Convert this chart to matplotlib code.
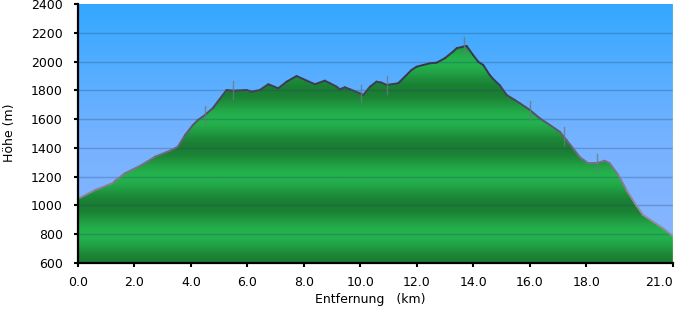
import numpy as np
import matplotlib
matplotlib.use("Agg")
import matplotlib.pyplot as plt
from matplotlib.collections import LineCollection
from matplotlib.colors import LinearSegmentedColormap

# ---- data ----
distance_km = [0.0, 0.60, 1.24, 1.31, 1.66, 2.25, 2.73, 3.32, 3.54, 3.79, 4.07, 4.25,
               4.50, 4.78, 5.26, 5.49, 5.97, 6.15, 6.44, 6.74, 7.09, 7.39, 7.74, 8.10,
               8.39, 8.74, 8.92, 9.16, 9.27, 9.45, 9.63, 9.98, 10.10, 10.34, 10.57, 10.75,
               10.93, 11.34, 11.81, 11.99, 12.22, 12.46, 12.70, 12.99, 13.28, 13.41, 13.64,
               13.76, 13.99, 14.17, 14.35, 14.58, 14.70, 14.94, 15.18, 15.47, 15.65, 16.00,
               16.35, 16.71, 17.06, 17.30, 17.53, 17.77, 18.07, 18.36, 18.65, 18.83, 19.13,
               19.42, 19.72, 20.01, 20.37, 20.72, 21.02, 21.07]
elevation_m = [1045, 1105, 1155, 1170, 1222, 1280, 1338, 1385, 1408, 1489, 1559, 1594,
               1629, 1678, 1803, 1798, 1803, 1791, 1803, 1843, 1815, 1861, 1900, 1868,
               1843, 1868, 1850, 1826, 1808, 1822, 1808, 1780, 1768, 1826, 1861, 1854,
               1838, 1850, 1942, 1965, 1977, 1989, 1993, 2024, 2070, 2094, 2105,
               2110, 2047, 2000, 1977, 1907, 1880, 1835, 1768, 1733, 1710, 1664,
               1606, 1559, 1512, 1454, 1397, 1335, 1292, 1292, 1310, 1292, 1211,
               1106, 1013, 932, 885, 839, 792, 785]
waypoints_km = [4.50, 5.49, 10.02, 10.94, 13.66, 16.00, 17.20, 18.37]
x_ticks = [0.0, 2.0, 4.0, 6.0, 8.0, 10.0, 12.0, 14.0, 16.0, 18.0, 21.07]
x_tick_labels = ["0.0", "2.0", "4.0", "6.0", "8.0", "10.0", "12.0", "14.0", "16.0", "18.0", "21.0"]
y_ticks = [600, 800, 1000, 1200, 1400, 1600, 1800, 2000, 2200, 2400]

W, H = 677, 311
fig = plt.figure(figsize=(W / 100, H / 100), dpi=100)
ax = fig.add_axes([78 / W, 1 - 262.6 / H, (673 - 78) / W, (262.6 - 4.3) / H])

xmin, xmax = 0.0, 21.07
ymin, ymax = 600, 2400
ax.set_xlim(xmin, xmax)
ax.set_ylim(ymin, ymax)

# sky gradient
sky = LinearSegmentedColormap.from_list("sky", ["#8db6ff", "#74b2ff", "#33a8ff"])
grad = np.linspace(0, 1, 256).reshape(-1, 1)
ax.imshow(grad, cmap=sky, origin="lower", aspect="auto",
          extent=[xmin, xmax, ymin, ymax], zorder=0)

# green fill with banded gradient
x = np.array(distance_km)
y = np.array(elevation_m)
poly = ax.fill_between(x, ymin, y, color="none", lw=0, zorder=1)
yy = np.linspace(ymin, ymax, 600)
phase = np.cos((yy - 1000) / 400 * 2 * np.pi)  # 1 at 1000/1400/1800, -1 at 800/1200/1600
band = (1 - phase) / 2
green = LinearSegmentedColormap.from_list("grn", ["#1a7d33", "#1f9840", "#24b24e"])
im = ax.imshow(band.reshape(-1, 1), cmap=green, origin="lower", aspect="auto",
               extent=[xmin, xmax, ymin, ymax], zorder=1, vmin=0, vmax=1)
path = poly.get_paths()[0]
im.set_clip_path(path, transform=ax.transData)

# grid lines
for yt in y_ticks[1:-1]:
    ax.axhline(yt, color="#1d3f66", alpha=0.27, lw=1.0, zorder=2)

# profile line, darker at higher elevation
pts = np.column_stack([x, y]).reshape(-1, 1, 2)
segs = np.concatenate([pts[:-1], pts[1:]], axis=1)
mid = (y[:-1] + y[1:]) / 2
t = np.clip((mid - 1000) / 900, 0, 1)
cols = [(0.58 - 0.36 * v, 0.55 - 0.33 * v, 0.62 - 0.32 * v, 1.0) for v in t]
lc = LineCollection(segs, colors=cols, linewidths=1.4, zorder=3, capstyle="round")
ax.add_collection(lc)

# waypoint markers
for wx in waypoints_km:
    wy = np.interp(wx, x, y)
    ax.plot([wx, wx], [wy - 60, wy + 65], color="#6b7a80", lw=1.0, alpha=0.8, zorder=3)

# right edge thin line
ax.axvline(xmax, color="#a8e0a0", lw=1.0, zorder=4)

# axes styling
for s in ["top", "right"]:
    ax.spines[s].set_visible(False)
for s in ["left", "bottom"]:
    ax.spines[s].set_linewidth(1.6)
    ax.spines[s].set_color("black")
    ax.spines[s].set_zorder(5)

ax.set_xticks(x_ticks)
ax.set_xticklabels(x_tick_labels)
ax.set_yticks(y_ticks)
ax.set_yticklabels([str(v) for v in y_ticks])
ax.tick_params(axis="both", direction="out", length=3, width=1.5, labelsize=9,
               colors="black")
ax.tick_params(axis="y", pad=8)
ax.tick_params(axis="x", pad=7)
ax.get_xticklabels()[-1].set_horizontalalignment("right")

fig.text(10 / W, 1 - 133 / H, "Höhe (m)", rotation=90, ha="center", va="center",
         fontsize=9)
fig.text(370 / W, 1 - 299 / H, "Entfernung   (km)", ha="center", va="center",
         fontsize=9)

fig.savefig("out.png", dpi=100)
